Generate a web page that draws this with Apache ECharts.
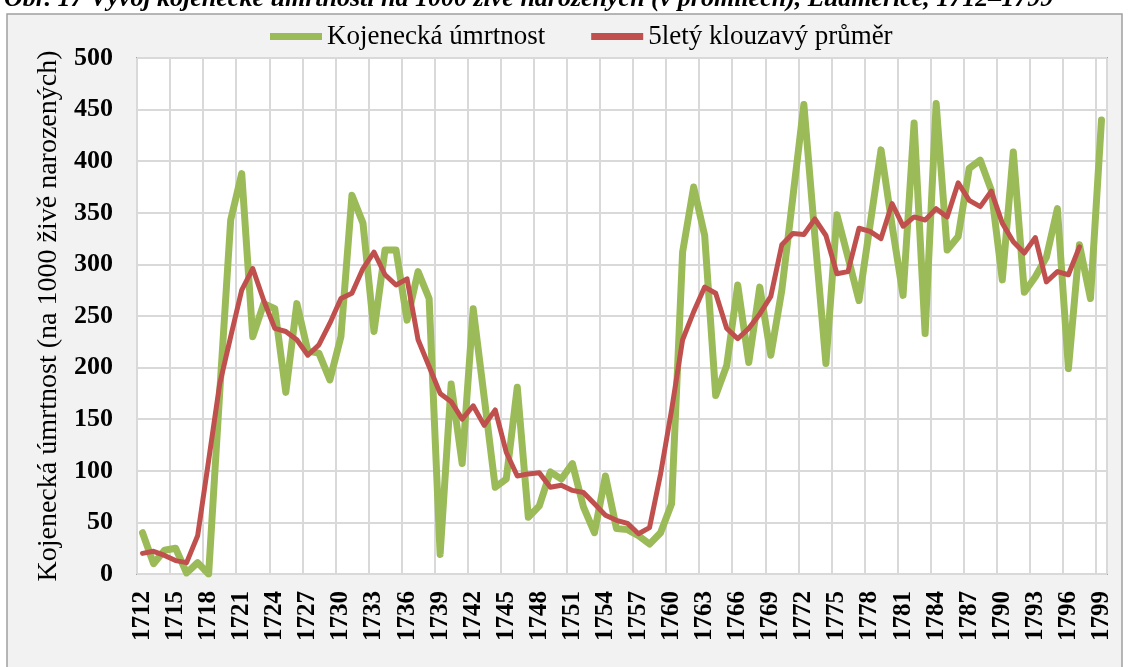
<!doctype html>
<html>
    <head>
        <meta charset="utf-8">
        <title>Kojenecká úmrtnost - Ludmerice</title>
        <style>
            html, body { margin: 0; padding: 0; background: #fff; }
            #main { width: 1129px; height: 667px; }
        </style>
    </head>
    <body>
        <div id="main"></div>
        <script src="https://cdn.jsdelivr.net/npm/echarts@6/dist/echarts.min.js"></script>
        <script>
            var years = [];
            for (var y = 1712; y <= 1799; y++) {
                years.push(String(y));
            }

            // kojenecka umrtnost (na 1000 zive narozenych), 1712-1799
            var umrtnost = [
                40, 10, 23, 25, 1, 11, 0, 175, 343, 388,
                230, 262, 257, 176, 262, 216, 214, 188, 230, 367,
                340, 235, 314, 314, 246, 293, 267, 19, 184, 107,
                257, 171, 84, 92, 181, 55, 66, 99, 92, 107,
                65, 40, 95, 44, 43, 37, 29, 40, 68, 312,
                375, 328, 173, 202, 280, 205, 278, 212, 275, 365,
                455, 327, 204, 348, 307, 265, 338, 411, 338, 270,
                437, 233, 456, 314, 327, 393, 401, 372, 285, 409,
                273, 288, 307, 354, 199, 319, 267, 440
            ];

            // 5lety klouzavy prumer, konci rokem 1797
            var prumer = [
                20, 22, 18, 13, 11, 37, 110, 184, 230, 275,
                296, 265, 238, 235, 227, 212, 222, 243, 267, 272,
                296, 312, 290, 280, 286, 227, 201, 175, 167, 150,
                163, 144, 159, 118, 95, 97, 98, 84, 86, 81,
                79, 68, 57, 52, 49, 39, 45, 97, 159, 227,
                254, 278, 272, 238, 228, 238, 252, 269, 319, 330,
                329, 344, 328, 291, 293, 335, 332, 325, 359, 337,
                346, 343, 354, 346, 379, 362, 356, 371, 340, 322,
                311, 326, 283, 293, 290, 317, null, null
            ];

            var font = "'Times New Roman', 'Liberation Serif', serif";

            var chart = echarts.init(document.getElementById('main'), null, {
                devicePixelRatio: 1
            });

            chart.setOption({
                backgroundColor: '#fff',
                animation: false,
                textStyle: { fontFamily: font },
                graphic: [
                    {
                        type: 'rect',
                        z: -100,
                        shape: { x: 7, y: 14, width: 1115, height: 670 },
                        style: { fill: '#f2f2f2', stroke: '#a0a0a0', lineWidth: 1.5 }
                    },
                    {
                        // titulek je v predloze oriznuty horni hranou
                        type: 'text',
                        x: 4,
                        y: 12,
                        style: {
                            text: 'Obr. 17 Vývoj kojenecké úmrtnosti na 1000 živě narozených (v promilech), Ludmerice, 1712–1799',
                            font: 'italic bold 26px ' + font,
                            fill: '#000',
                            verticalAlign: 'bottom'
                        }
                    }
                ],
                legend: {
                    left: 265,
                    top: 18,
                    icon: 'rect',
                    itemWidth: 52,
                    itemHeight: 7,
                    itemGap: 46,
                    textStyle: { fontFamily: font, fontSize: 27, color: '#000' },
                    data: ['Kojenecká úmrtnost', '5letý klouzavý průměr']
                },
                grid: {
                    left: 137,
                    right: 22,
                    top: 58,
                    bottom: 93,
                    show: true,
                    backgroundColor: '#fff',
                    borderColor: '#a6a6a6',
                    borderWidth: 2
                },
                xAxis: {
                    type: 'category',
                    data: years,
                    boundaryGap: true,
                    axisLine: { show: false },
                    axisTick: { show: false, interval: 2 },
                    axisLabel: {
                        interval: 2,
                        rotate: 90,
                        margin: 17,
                        fontFamily: font,
                        fontSize: 25,
                        fontWeight: 'bold',
                        color: '#000'
                    },
                    splitLine: {
                        show: true,
                        interval: 2,
                        lineStyle: { color: '#d9d9d9', width: 2 }
                    }
                },
                yAxis: {
                    type: 'value',
                    min: 0,
                    max: 500,
                    interval: 50,
                    name: 'Kojenecká úmrtnost (na 1000 živě narozených)',
                    nameLocation: 'middle',
                    nameGap: 58,
                    nameTextStyle: { fontFamily: font, fontSize: 28, color: '#000' },
                    axisLine: { show: false },
                    axisTick: { show: false },
                    axisLabel: {
                        margin: 24,
                        fontFamily: font,
                        fontSize: 26,
                        fontWeight: 'bold',
                        color: '#000'
                    },
                    splitLine: {
                        lineStyle: { color: '#d9d9d9', width: 2 }
                    }
                },
                series: [
                    {
                        name: 'Kojenecká úmrtnost',
                        type: 'line',
                        data: umrtnost,
                        symbol: 'none',
                        color: '#9bbb59',
                        lineStyle: { width: 7, color: '#9bbb59', cap: 'round', join: 'round' },
                        z: 2
                    },
                    {
                        name: '5letý klouzavý průměr',
                        type: 'line',
                        data: prumer,
                        symbol: 'none',
                        color: '#c0504d',
                        lineStyle: { width: 5, color: '#c0504d', cap: 'round', join: 'round' },
                        z: 3
                    }
                ]
            });

            window.onresize = chart.resize;
        </script>
    </body>
</html>
